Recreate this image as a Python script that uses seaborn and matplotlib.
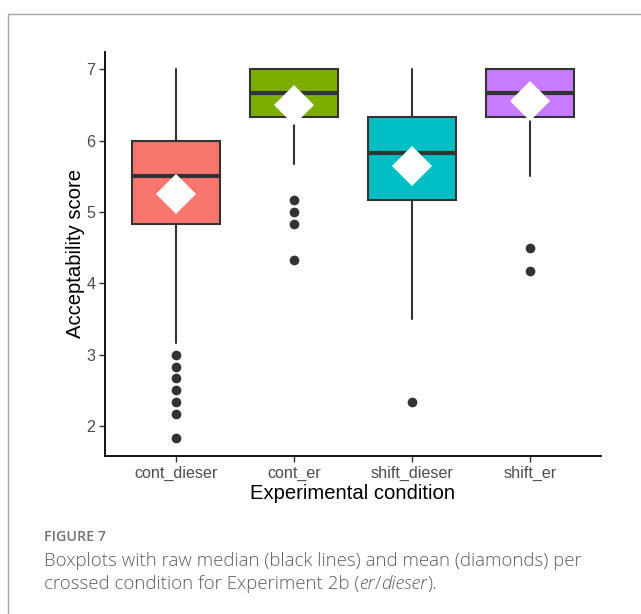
import matplotlib
matplotlib.use("Agg")
import matplotlib.pyplot as plt
import seaborn as sns
import pandas as pd
from matplotlib.lines import Line2D

# Per-condition summary statistics of the acceptability ratings
conditions = ["cont_dieser", "cont_er", "shift_dieser", "shift_er"]
box_colors = ["#F8766D", "#7CAE00", "#00BFC4", "#C77CFF"]
q1 = [4.83, 6.33, 5.17, 6.33]
medians = [5.5, 6.67, 5.83, 6.67]
q3 = [6.0, 7.0, 6.33, 7.0]
whisker_low = [3.17, 5.67, 3.5, 5.5]
whisker_high = [7.0, 7.0, 7.0, 7.0]
means = [5.25, 6.5, 5.64, 6.55]
outlier_cond = (["cont_dieser"] * 7 + ["cont_er"] * 4 + ["shift_dieser"] * 1 + ["shift_er"] * 2)
outlier_vals = [3.0, 2.83, 2.67, 2.5, 2.33, 2.17, 1.83,
                5.17, 5.0, 4.83, 4.33,
                2.33,
                4.5, 4.17]
y_ticks = [2, 3, 4, 5, 6, 7]

sns.set_style("ticks")
plt.rcParams["font.family"] = ["Liberation Sans", "DejaVu Sans"]

W, H = 641, 614
fig = plt.figure(figsize=(W / 100, H / 100), dpi=100)
fig.patch.set_facecolor("white")

def fx(px):
    return px / W

def fy(py):
    return 1 - py / H

ax = fig.add_axes([fx(105), fy(456), fx(601) - fx(105), fy(52) - fy(456)])
ax.set_facecolor("white")

dark = "#333333"
stats = [dict(label=c, q1=a, med=m, q3=b, whislo=lo, whishi=hi, fliers=[])
         for c, a, m, b, lo, hi in zip(conditions, q1, medians, q3, whisker_low, whisker_high)]
bp = ax.bxp(stats, positions=list(range(len(conditions))), widths=0.75,
            patch_artist=True, showcaps=False, showfliers=False,
            boxprops=dict(edgecolor=dark, linewidth=1.5),
            whiskerprops=dict(color=dark, linewidth=1.5),
            medianprops=dict(color=dark, linewidth=3.0, solid_capstyle="butt"),
            zorder=2)
for patch, col in zip(bp["boxes"], box_colors):
    patch.set_facecolor(col)

out_df = pd.DataFrame({"condition": outlier_cond, "score": outlier_vals})
sns.stripplot(data=out_df, x="condition", y="score", order=conditions,
              jitter=False, color=dark, size=7, linewidth=0, ax=ax, zorder=3)

mean_df = pd.DataFrame({"condition": conditions, "score": means})
sns.pointplot(data=mean_df, x="condition", y="score", order=conditions,
              errorbar=None, color="white", marker="D", markersize=20,
              markeredgewidth=0, linestyle="none", ax=ax, zorder=5)

ax.set_xlim(-0.6, 3.6)
ax.set_ylim(1.58, 7.24)
ax.set_yticks(y_ticks)
ax.set_yticklabels([str(t) for t in y_ticks])
ax.set_xticks(range(len(conditions)))
ax.set_xticklabels(conditions)
ax.grid(False)
for side in ["top", "right"]:
    ax.spines[side].set_visible(False)
for side in ["left", "bottom"]:
    ax.spines[side].set_color("black")
    ax.spines[side].set_linewidth(1.3)
ax.tick_params(axis="both", colors=dark, length=4, width=1.0,
               labelcolor="#4D4D4D", labelsize=11.6, pad=3)
ax.set_xlabel("Experimental condition", fontsize=14.6, color="black", labelpad=2)
ax.set_ylabel("Acceptability score", fontsize=14.6, color="black", labelpad=1)

# Panel frame (top and left rules)
fig.add_artist(Line2D([fx(8), fx(8), 1.0], [0.0, fy(14), fy(14)],
                      transform=fig.transFigure, color="#a6a6a6", linewidth=1.0))

# Caption
cap_color = "#5e5e5e"
cap_font = ["Open Sans", "DejaVu Sans"]
renderer = fig.canvas.get_renderer()
fig.text(fx(44), fy(537), "FIGURE 7", fontsize=10.3, fontweight="semibold",
         color="#737373", family=cap_font, va="center", ha="left")

# size the caption text so the first line spans the text column
line1 = fig.text(fx(44), fy(561), "Boxplots with raw median (black lines) and mean (diamonds) per",
                 fontsize=13, fontweight="light", color=cap_color, family=cap_font,
                 va="center", ha="left")
w0 = line1.get_window_extent(renderer=renderer).width
cap_size = 13 * 535 / w0
line1.set_fontsize(cap_size)

x_cursor = 44
pieces = [("crossed condition for Experiment 2b (", "normal"),
          ("er", "italic"), ("/", "normal"), ("dieser", "italic"), (").", "normal")]
for txt, style in pieces:
    t = fig.text(fx(x_cursor), fy(584), txt, fontsize=cap_size, fontweight="light",
                 style=style, color=cap_color, family=cap_font,
                 va="center", ha="left")
    bb = t.get_window_extent(renderer=renderer)
    x_cursor += bb.width

fig.savefig("out.png", dpi=100, facecolor="white")
